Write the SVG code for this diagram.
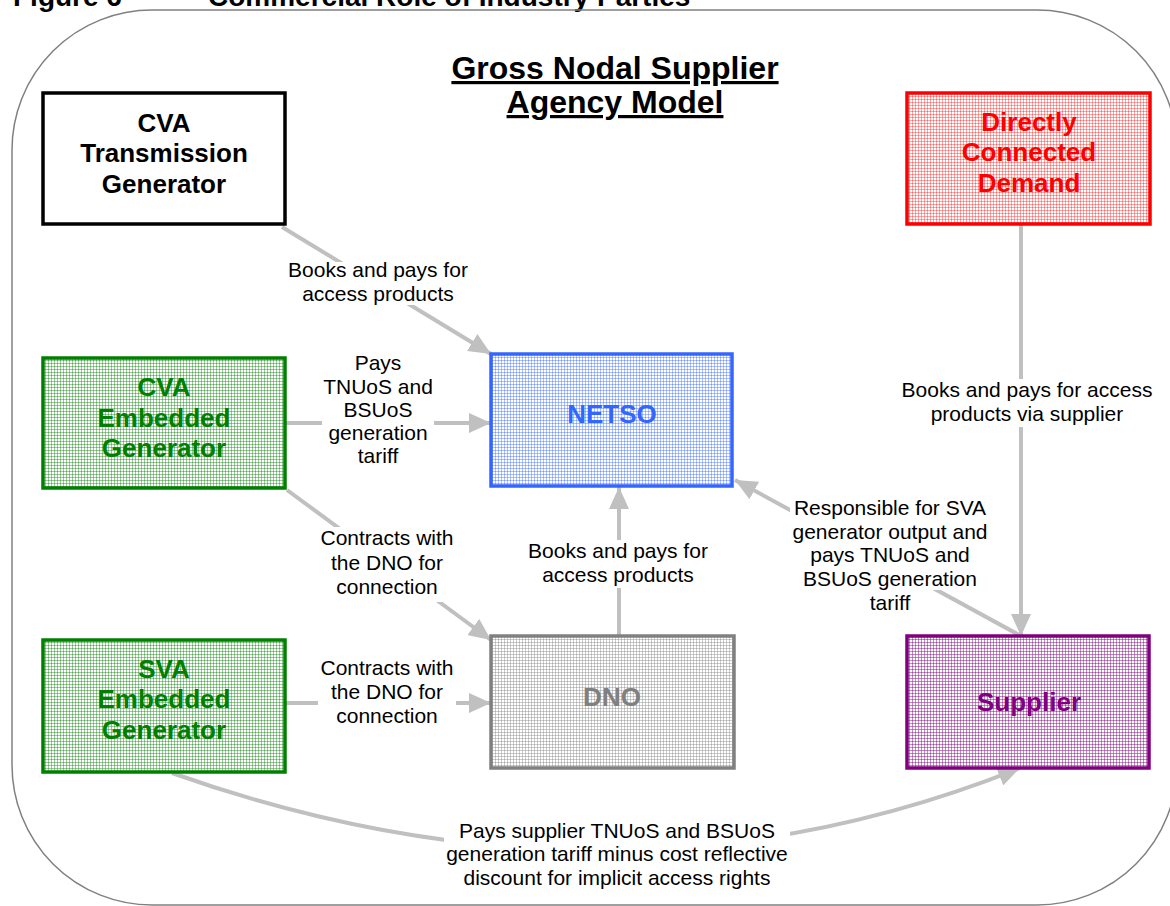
<svg xmlns="http://www.w3.org/2000/svg" width="1170" height="906" viewBox="0 0 1170 906">
<style>
  .cap{font-family:"Liberation Sans",Arial,sans-serif;font-weight:bold;font-size:28px;fill:#000}
  .title{font-family:"Liberation Sans",Arial,sans-serif;font-weight:bold;font-size:32px;fill:#000;text-decoration:underline}
  .nt{font-family:"Liberation Sans",Arial,sans-serif;font-weight:bold;font-size:26px;text-anchor:middle}
  .lbl{font-family:"Liberation Sans",Arial,sans-serif;font-size:21px;fill:#000;text-anchor:middle}
  .box{stroke-width:3.5}
  .conn{fill:none;stroke:#C0C0C0;stroke-width:4;marker-end:url(#ah)}
  .bg{fill:#fff}
</style>
<defs>
  <marker id="ah" markerUnits="userSpaceOnUse" markerWidth="22" markerHeight="20" refX="22" refY="10" orient="auto">
    <path d="M0,0 L22,10 L0,20 z" fill="#C0C0C0"/>
  </marker>
  <pattern id="pGreen" width="3" height="3" patternUnits="userSpaceOnUse"><rect width="3" height="3" fill="#fff"/><path d="M0 .5H3M.5 0V3" stroke="#008000" stroke-opacity=".4"/></pattern>
  <pattern id="pBlue" width="3" height="3" patternUnits="userSpaceOnUse"><rect width="3" height="3" fill="#fff"/><path d="M0 .5H3M.5 0V3" stroke="#3366FF" stroke-opacity=".4"/></pattern>
  <pattern id="pRed" width="3" height="3" patternUnits="userSpaceOnUse"><rect width="3" height="3" fill="#fff"/><path d="M0 .5H3M.5 0V3" stroke="#FF0000" stroke-opacity=".35"/></pattern>
  <pattern id="pGray" width="3" height="3" patternUnits="userSpaceOnUse"><rect width="3" height="3" fill="#fff"/><path d="M0 .5H3M.5 0V3" stroke="#808080" stroke-opacity=".4"/></pattern>
  <pattern id="pPurple" width="3" height="3" patternUnits="userSpaceOnUse"><rect width="3" height="3" fill="#fff"/><path d="M0 .5H3M.5 0V3" stroke="#800080" stroke-opacity=".45"/></pattern>
</defs>
<rect width="1170" height="906" fill="#fff"/>
<text class="cap" x="13" y="6">Figure 6</text>
<text class="cap" x="208" y="6">Commercial Role of Industry Parties</text>
<rect x="12" y="10" width="1165" height="895" rx="140" ry="140" fill="none" stroke="#808080" stroke-width="1.5"/>
<text class="title" x="615" y="79" text-anchor="middle">Gross Nodal Supplier</text>
<text class="title" x="615" y="113" text-anchor="middle">Agency Model</text>

<g id="connectors">
  <path class="conn" d="M282,227 L491,354"/>
  <path class="conn" d="M286,423 L491,423"/>
  <path class="conn" d="M287,490 L491,640"/>
  <path class="conn" d="M286,703 L491,703"/>
  <path class="conn" d="M619,636 L619,487"/>
  <path class="conn" d="M1021,225 L1021,636"/>
  <path class="conn" d="M1021,636 L735,480"/>
  <path class="conn" d="M172,773 Q615,930 1020,768"/>
  <rect class="bg" x="286" y="262" width="184" height="43"/>
  <text class="lbl" x="378" y="277">Books and pays for</text>
  <text class="lbl" x="378" y="301">access products</text>
  <rect class="bg" x="322" y="352" width="112" height="116"/>
  <text class="lbl" x="378" y="370">Pays</text>
  <text class="lbl" x="378" y="394">TNUoS and</text>
  <text class="lbl" x="378" y="417">BSUoS</text>
  <text class="lbl" x="378" y="440">generation</text>
  <text class="lbl" x="378" y="463">tariff</text>
  <rect class="bg" x="318" y="527" width="138" height="75"/>
  <text class="lbl" x="387" y="545">Contracts with</text>
  <text class="lbl" x="387" y="570">the DNO for</text>
  <text class="lbl" x="387" y="594">connection</text>
  <rect class="bg" x="318" y="657" width="138" height="72"/>
  <text class="lbl" x="387" y="675">Contracts with</text>
  <text class="lbl" x="387" y="699">the DNO for</text>
  <text class="lbl" x="387" y="723">connection</text>
  <rect class="bg" x="526" y="540" width="184" height="48"/>
  <text class="lbl" x="618" y="558">Books and pays for</text>
  <text class="lbl" x="618" y="582">access products</text>
  <rect class="bg" x="900" y="379" width="256" height="48"/>
  <text class="lbl" x="1027" y="397">Books and pays for access</text>
  <text class="lbl" x="1027" y="421">products via supplier</text>
  <rect class="bg" x="790" y="496" width="205" height="94"/>
  <text class="lbl" x="890" y="515">Responsible for SVA</text>
  <text class="lbl" x="890" y="539">generator output and</text>
  <text class="lbl" x="890" y="562">pays TNUoS and</text>
  <text class="lbl" x="890" y="586">BSUoS generation</text>
  <text class="lbl" x="890" y="610">tariff</text>
  <rect class="bg" x="444" y="818" width="346" height="74"/>
  <text class="lbl" x="617" y="838">Pays supplier TNUoS and BSUoS</text>
  <text class="lbl" x="617" y="861">generation tariff minus cost reflective</text>
  <text class="lbl" x="617" y="885">discount for implicit access rights</text>
</g>

<g id="cva-transmission-generator">
  <rect class="box" x="43" y="93" width="242" height="131" fill="#fff" stroke="#000"/>
  <text class="nt" x="164" y="132" fill="#000">CVA</text>
  <text class="nt" x="164" y="162" fill="#000">Transmission</text>
  <text class="nt" x="164" y="193" fill="#000">Generator</text>
</g>
<g id="cva-embedded-generator">
  <rect class="box" x="43" y="358" width="242" height="130" fill="url(#pGreen)" stroke="#008000"/>
  <text class="nt" x="164" y="396" fill="#008000">CVA</text>
  <text class="nt" x="164" y="427" fill="#008000">Embedded</text>
  <text class="nt" x="164" y="457" fill="#008000">Generator</text>
</g>
<g id="sva-embedded-generator">
  <rect class="box" x="43" y="640" width="242" height="132" fill="url(#pGreen)" stroke="#008000"/>
  <text class="nt" x="164" y="678" fill="#008000">SVA</text>
  <text class="nt" x="164" y="708" fill="#008000">Embedded</text>
  <text class="nt" x="164" y="739" fill="#008000">Generator</text>
</g>
<g id="netso">
  <rect class="box" x="491" y="354" width="241" height="132" fill="url(#pBlue)" stroke="#3366FF"/>
  <text class="nt" x="612" y="423" fill="#3366FF">NETSO</text>
</g>
<g id="dno">
  <rect class="box" x="491" y="636" width="243" height="132" fill="url(#pGray)" stroke="#808080"/>
  <text class="nt" x="612" y="706" fill="#808080">DNO</text>
</g>
<g id="supplier">
  <rect class="box" x="907" y="636" width="242" height="132" fill="url(#pPurple)" stroke="#800080"/>
  <text class="nt" x="1029" y="711" fill="#800080">Supplier</text>
</g>
<g id="directly-connected-demand">
  <rect class="box" x="907" y="93" width="243" height="131" fill="url(#pRed)" stroke="#FF0000"/>
  <text class="nt" x="1029" y="131" fill="#FF0000">Directly</text>
  <text class="nt" x="1029" y="161" fill="#FF0000">Connected</text>
  <text class="nt" x="1029" y="192" fill="#FF0000">Demand</text>
</g>
</svg>
